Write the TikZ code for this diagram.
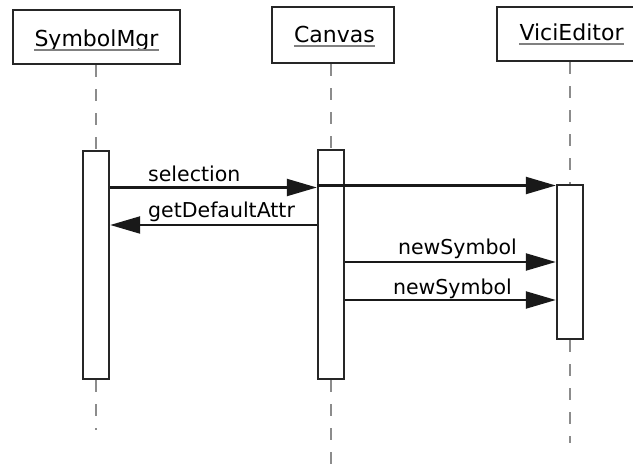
\documentclass[tikz,border=0pt]{standalone}
\usepackage{fontspec}
\setmainfont{DejaVu Sans}
\usetikzlibrary{arrows.meta}
\begin{document}
\begin{tikzpicture}[x=1pt,y=-1pt,
  every node/.style={font=\fontsize{20.5}{24}\selectfont},
  obj/.style={draw=black!85, line width=2.6pt, inner sep=0pt},
  actbar/.style={draw=black!85, fill=white, line width=2.4pt, minimum width=26pt, inner sep=0pt, anchor=north},
  lifeline/.style={draw=black!45, line width=1.8pt, dash pattern=on 12pt off 12pt},
  msg/.style={draw=black!90, line width=2.2pt, -{Triangle[length=30pt,width=17pt]}},
  lbl/.style={inner sep=0pt},
  objname/.style={inner sep=0pt, anchor=base, font=\fontsize{22}{26}\selectfont},
  uline/.style={draw=black!50, line width=1.4pt},
]
\useasboundingbox (0,0) rectangle (633,465);

% object boxes
\node[obj, minimum width=167pt, minimum height=54pt] (smbox) at (96.5,37) {};
\node[obj, minimum width=122pt, minimum height=56pt] (cvbox) at (333,35) {};
\node[obj, minimum width=144pt, minimum height=54pt] (vcbox) at (569,34) {};

% object names, underlined
\node[objname] (smname) at (96.5,47) {SymbolMgr};
\node[objname] (cvname) at (334.5,43) {Canvas};
\node[objname] (vcname) at (571.5,41) {ViciEditor};
\foreach \n in {smname,cvname,vcname}
  \draw[uline] ([yshift=-3pt]\n.base west) -- ([yshift=-3pt]\n.base east);

% lifeline ends
\coordinate (smend) at (96,430);
\coordinate (cvend) at (331,465);
\coordinate (vcend) at (570,443);

% activation bars (placed first so the lifelines can reference them)
\node[actbar, minimum height=228pt] (smbar) at (96,150) {};
\node[actbar, minimum height=229pt] (cvbar) at (331,149) {};
\node[actbar, minimum height=154pt] (vcbar) at (570,184) {};

% lifelines
\draw[lifeline] (smbox.south -| smbar.north) -- (smbar.north);
\draw[lifeline] (smbar.south) -- (smend);
\draw[lifeline] (cvbox.south -| cvbar.north) -- (cvbar.north);
\draw[lifeline] (cvbar.south) -- (cvend);
\draw[lifeline] (vcbox.south -| vcbar.north) -- (vcbar.north);
\draw[lifeline] (vcbar.south) -- (vcend);

% bars redrawn over the lifelines
\node[actbar, minimum height=228pt] at (96,150) {};
\node[actbar, minimum height=229pt] at (331,149) {};
\node[actbar, minimum height=154pt] at (570,184) {};

% message levels
\coordinate (m0) at (0,185.5);
\coordinate (m1) at (0,187.5);
\coordinate (m2) at (0,225);
\coordinate (m3) at (0,262);
\coordinate (m4) at (0,300);

% messages
\draw[msg] (cvbar.west |- m0) -- (vcbar.west |- m0);
\draw[msg] (smbar.east |- m1) -- (cvbar.west |- m1);
\draw[msg] (cvbar.west |- m2) -- (smbar.east |- m2);
\draw[msg] (cvbar.east |- m3) -- (vcbar.west |- m3);
\draw[msg] (cvbar.east |- m4) -- (vcbar.west |- m4);

% message labels
\node[lbl, anchor=base west] (lsel) at (148,182) {selection};
\node[lbl, anchor=base west] (lget) at (148,218) {getDefaultAttr};
\node[lbl, anchor=base east] (lnew1) at (517,255) {newSymbol};
\node[lbl, anchor=base east] (lnew2) at (512,295) {newSymbol};
\end{tikzpicture}
\end{document}
